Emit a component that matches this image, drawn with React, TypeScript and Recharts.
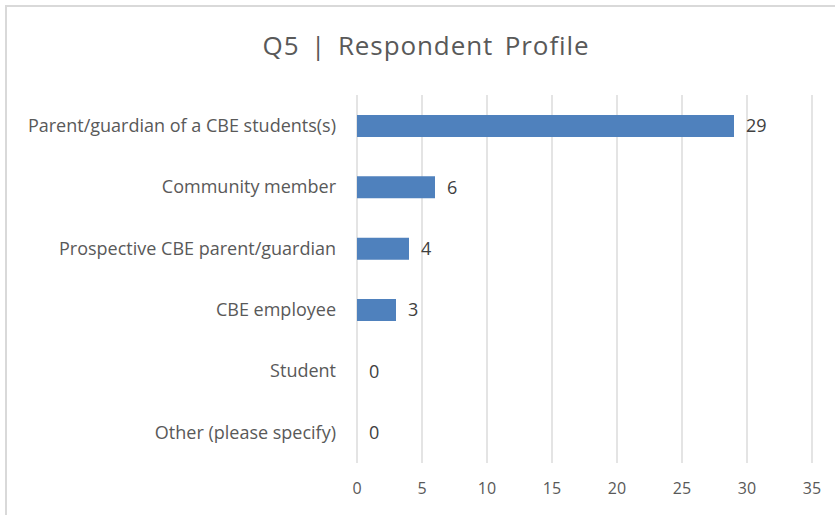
import { BarChart, Bar, XAxis, YAxis, CartesianGrid, LabelList } from 'recharts';

const CATEGORIES = [
  'Parent/guardian of a CBE students(s)',
  'Community member',
  'Prospective CBE parent/guardian',
  'CBE employee',
  'Student',
  'Other (please specify)',
];
const COUNTS = [29, 6, 4, 3, 0, 0];
const X_TICKS = [0, 5, 10, 15, 20, 25, 30, 35];

// tiny invisible cap stacked on each bar so zero bars still get a label
const LABEL_PAD = 0.0001;

const FONT = '"Open Sans", Lato, sans-serif';

export default function App() {
  const data = CATEGORIES.map((name, i) => ({ name, value: COUNTS[i], pad: LABEL_PAD }));

  return (
    <div
      style={{
        position: 'absolute',
        left: 0,
        top: 0,
        width: 835,
        height: 515,
        background: '#fff',
        fontFamily: FONT,
        overflow: 'hidden',
      }}
    >
      <div
        style={{
          position: 'absolute',
          left: 5,
          top: 5,
          width: 860,
          height: 540,
          borderTop: '2px solid #d9d9d9',
          borderLeft: '2px solid #d9d9d9',
        }}
      />
      <div
        style={{
          position: 'absolute',
          left: 0,
          top: 28,
          width: 852,
          textAlign: 'center',
          fontSize: 26,
          letterSpacing: 0.9,
          wordSpacing: 4,
          color: '#595959',
          lineHeight: '34px',
        }}
      >
        Q5 | Respondent Profile
      </div>
      <div style={{ position: 'absolute', left: 0, top: 0 }}>
        <BarChart
          width={835}
          height={515}
          data={data}
          layout="vertical"
          margin={{ top: 95, right: 23, bottom: 22, left: 0 }}
        >
          <CartesianGrid horizontal={false} stroke="#d9d9d9" strokeWidth={1.4} />
          <XAxis
            type="number"
            domain={[0, 35]}
            ticks={X_TICKS}
            allowDataOverflow
            axisLine={false}
            tickLine={false}
            height={30}
            tickMargin={14}
            tick={{ fill: '#595959', fontSize: 16, fontFamily: FONT }}
          />
          <YAxis
            type="category"
            dataKey="name"
            width={357}
            axisLine={false}
            tickLine={false}
            tickMargin={15}
            tick={{ fill: '#595959', fontSize: 18, fontFamily: FONT }}
          />
          <Bar dataKey="value" stackId="a" fill="#4f81bd" barSize={22} isAnimationActive={false} />
          <Bar dataKey="pad" stackId="a" fill="transparent" barSize={22} isAnimationActive={false}>
            <LabelList
              dataKey="value"
              position="right"
              offset={12}
              fill="#404040"
              fontSize={18}
              fontFamily={FONT}
            />
          </Bar>
        </BarChart>
      </div>
    </div>
  );
}
